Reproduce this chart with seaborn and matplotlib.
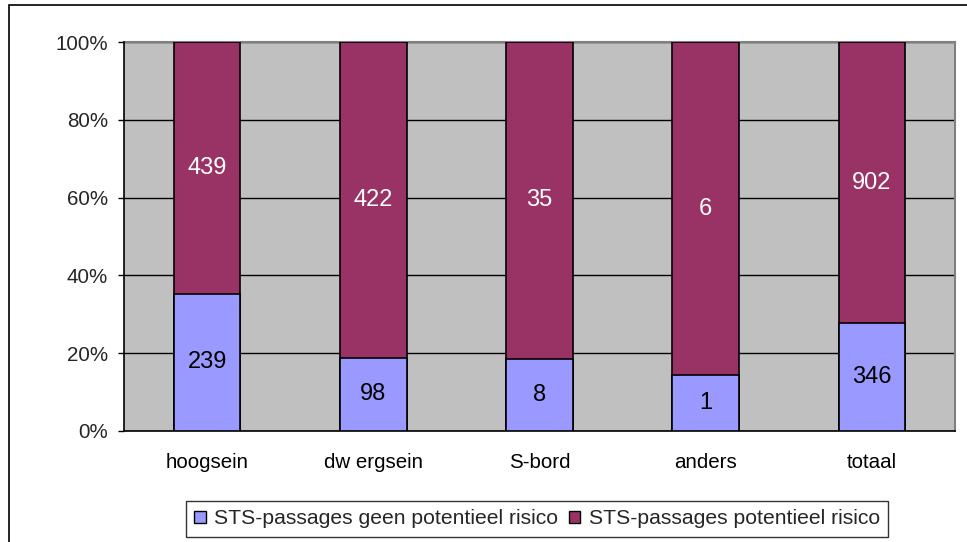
import matplotlib
matplotlib.use("Agg")
import matplotlib.pyplot as plt
import seaborn as sns
import pandas as pd
import numpy as np
from matplotlib.patches import Rectangle
from matplotlib.ticker import FixedLocator, PercentFormatter

categories = ["hoogsein", "dw ergsein", "S-bord", "anders", "totaal"]
geen_risico = [239, 98, 8, 1, 346]
potentieel_risico = [439, 422, 35, 6, 902]
series_names = ["STS-passages geen potentieel risico", "STS-passages potentieel risico"]

blue = "#9999FF"
maroon = "#993366"

sns.set_theme(style="white")
plt.rcParams["font.family"] = ["Liberation Sans", "DejaVu Sans"]

geen = np.array(geen_risico, dtype=float)
pot = np.array(potentieel_risico, dtype=float)
tot = geen + pot
df = pd.DataFrame({
    "cat": categories,
    "geen_pct": geen / tot * 100,
    "tot_pct": tot / tot * 100,
})

W, H = 967, 542
fig = plt.figure(figsize=(W / 100, H / 100), dpi=100)
fig.patch.set_facecolor("white")
ax = fig.add_axes([124 / W, 1 - 431 / H, (955 - 124) / W, (431 - 42) / H])
ax.set_facecolor("#C0C0C0")

sns.barplot(data=df, x="cat", y="tot_pct", color=maroon, saturation=1, width=0.40,
            edgecolor="black", linewidth=1.2, ax=ax, zorder=3)
sns.barplot(data=df, x="cat", y="geen_pct", color=blue, saturation=1, width=0.40,
            edgecolor="black", linewidth=1.2, ax=ax, zorder=4)

for i, (g, p) in enumerate(zip(geen_risico, potentieel_risico)):
    gp = df["geen_pct"].iloc[i]
    ax.text(i, gp / 2, str(g), ha="center", va="center", fontsize=17, color="black", zorder=5)
    ax.text(i, gp + (100 - gp) / 2, str(p), ha="center", va="center", fontsize=17, color="white", zorder=5)

ax.set_xlim(-0.5, len(categories) - 0.5)
ax.set_ylim(0, 100)
ax.set_yticks([0, 20, 40, 60, 80, 100])
ax.yaxis.set_major_formatter(PercentFormatter(decimals=0))
ax.grid(axis="y", color="black", linewidth=1, zorder=1)
ax.set_axisbelow(True)
ax.set_xlabel("")
ax.set_ylabel("")

ax.xaxis.set_minor_locator(FixedLocator(np.arange(-0.5, len(categories), 1.0)))
ax.tick_params(axis="x", which="major", length=0, pad=16, labelsize=14.8, colors="black")
ax.tick_params(axis="x", which="minor", length=4.5, width=1, color="black", direction="out")
ax.tick_params(axis="y", which="major", length=4.5, width=1, color="black", direction="out",
               pad=7, labelsize=14.8, left=True)

for s in ["left", "bottom"]:
    ax.spines[s].set_color("black")
    ax.spines[s].set_linewidth(1.2)
for s in ["top", "right"]:
    ax.spines[s].set_color("#808080")
    ax.spines[s].set_linewidth(1.5)
    ax.spines[s].set_zorder(2)

handles = [Rectangle((0, 0), 1, 1, facecolor=blue, edgecolor="black", linewidth=1),
           Rectangle((0, 0), 1, 1, facecolor=maroon, edgecolor="black", linewidth=1)]
leg = fig.legend(handles, series_names, loc="center", bbox_to_anchor=(537 / W, 1 - 519 / H),
                 ncol=2, fontsize=15.2, frameon=True, fancybox=False, shadow=False,
                 handlelength=0.55, handleheight=0.55, handletextpad=0.4, columnspacing=0.5,
                 borderpad=0.4, borderaxespad=0)
leg.get_frame().set_edgecolor("black")
leg.get_frame().set_linewidth(1)

fig.patches.append(Rectangle((9 / W, -0.1), 1.2, 1 - 5 / H + 0.1, transform=fig.transFigure,
                             facecolor="none", edgecolor="black", linewidth=1.2, zorder=0))

fig.savefig("out.png", dpi=100)
